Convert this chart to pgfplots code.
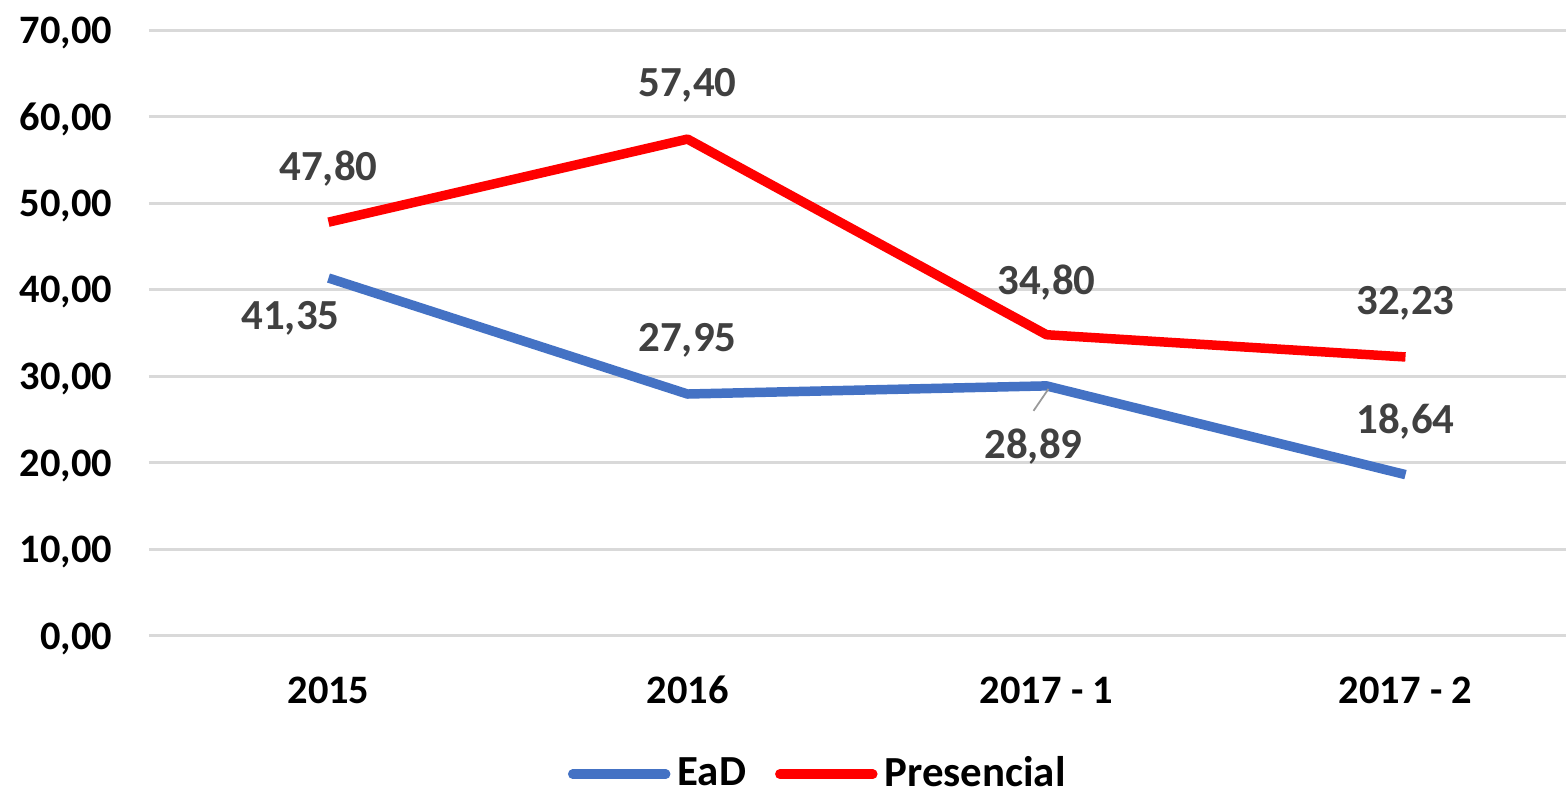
\documentclass[border=0pt]{standalone}
\usepackage{fontspec}
\setmainfont{Carlito}
\usepackage{pgfplots}
\pgfplotsset{compat=1.18}

\definecolor{eadblue}{HTML}{4472C4}
\definecolor{presred}{HTML}{FF0000}
\definecolor{labgray}{HTML}{404040}
\definecolor{gridgray}{HTML}{D9D9D9}

\begin{document}
\begin{tikzpicture}
\path[use as bounding box] (-14.9mm,-15.9mm) rectangle (141.7mm,63.6mm);
\begin{axis}[
    at={(0,0)}, anchor=south west,
    scale only axis,
    width=143.6mm, height=60.6mm,
    xmin=-0.5, xmax=3.5,
    ymin=0, ymax=70,
    ytick={0,10,...,70},
    xtick={0,1,2,3},
    xticklabels={2015,2016,2017 - 1,2017 - 2},
    axis line style={draw=none},
    major tick length=0pt,
    ymajorgrids,
    grid style={draw=gridgray, line width=0.85pt},
    clip=false,
    /pgf/number format/.cd, fixed, fixed zerofill, precision=2, use comma, assume math mode=true,
    /pgfplots/.cd,
    tick label style={font=\bfseries\fontsize{11.5}{13}\selectfont, text depth=0pt, inner sep=0pt},
    yticklabel style={anchor=east, xshift=-3.6mm},
    xticklabel style={anchor=center, yshift=-5.4mm},
    legend columns=2,
    legend style={draw=none, at={(0.4675,-0.228)}, anchor=center,
        font=\bfseries\fontsize{12.2}{14}\selectfont, inner sep=0pt,
        /tikz/every even column/.append style={column sep=2.2mm}},
    legend image code/.code={\draw[#1, line cap=round] (0mm,0mm) -- (9.3mm,0mm);},
]
\addplot[eadblue, line width=2.7pt, line join=round] coordinates {
(0,41.35) (1,27.95) (2,28.89) (3,18.64)
};
\addlegendentry{EaD}
\addplot[presred, line width=2.7pt, line join=round] coordinates {
(0,47.80) (1,57.40) (2,34.80) (3,32.23)
};
\addlegendentry{Presencial}

\tikzset{dl/.style={font=\bfseries\fontsize{12.2}{14}\selectfont, text=labgray, text depth=0pt, inner sep=0pt, anchor=center}}
% EaD labels
\node[dl, xshift=-3.8mm, yshift=-3.7mm] at (axis cs:0,41.35) {41,35};
\node[dl, yshift=5.7mm] at (axis cs:1,27.95) {27,95};
\node[dl, xshift=-1.3mm, yshift=-5.8mm] at (axis cs:2,28.89) {28,89};
\draw[gray!80, line width=0.5pt] ([xshift=0.2mm, yshift=-0.3mm]axis cs:2,28.89) -- ([xshift=-1.3mm, yshift=-2.5mm]axis cs:2,28.89);
\node[dl, yshift=5.6mm] at (axis cs:3,18.64) {18,64};
% Presencial labels
\node[dl, yshift=5.6mm] at (axis cs:0,47.80) {47,80};
\node[dl, yshift=5.7mm] at (axis cs:1,57.40) {57,40};
\node[dl, yshift=5.5mm] at (axis cs:2,34.80) {34,80};
\node[dl, yshift=5.7mm] at (axis cs:3,32.23) {32,23};
\end{axis}
\end{tikzpicture}
\end{document}
